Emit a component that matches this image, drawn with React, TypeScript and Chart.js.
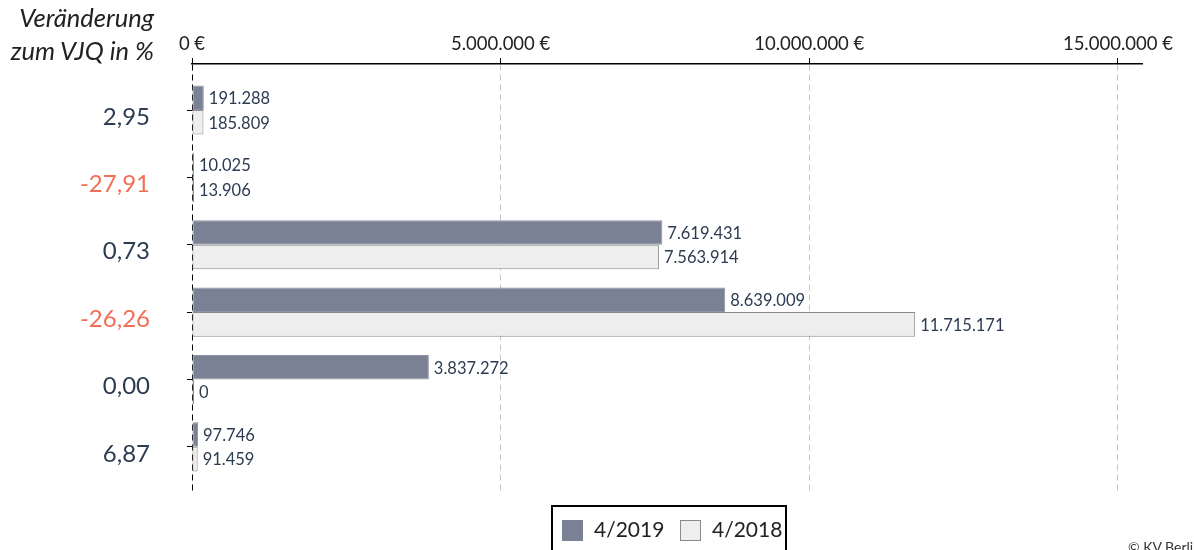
import React, { useEffect, useRef } from "react";
import { Chart, registerables } from "chart.js";

Chart.register(...registerables);

const changeLabels = ["2,95", "-27,91", "0,73", "-26,26", "0,00", "6,87"];
const values2019 = [191288, 10025, 7619431, 8639009, 3837272, 97746];
const values2018 = [185809, 13906, 7563914, 11715171, 0, 91459];
const xTicks = [0, 5000000, 10000000, 15000000];
const seriesNames = ["4/2019", "4/2018"];

const FONT = "Lato, 'Open Sans', sans-serif";
const DARK = "#2c3b52";
const RED = "#f26d55";

function fmt(n: number): string {
  const s = Math.round(n).toString();
  return s.replace(/\B(?=(\d{3})+(?!\d))/g, ".");
}

const valueLabelPlugin = {
  id: "valueLabels",
  afterDatasetsDraw(chart: any) {
    const ctx = chart.ctx;
    ctx.save();
    ctx.font = `16.5px ${FONT}`;
    ctx.fillStyle = DARK;
    ctx.textAlign = "left";
    ctx.textBaseline = "middle";
    chart.data.datasets.forEach((ds: any, di: number) => {
      const meta = chart.getDatasetMeta(di);
      meta.data.forEach((el: any, i: number) => {
        const v = ds.data[i].x;
        ctx.fillText(fmt(v), Math.max(el.x, el.base) + 5, el.y + 1);
      });
    });
    ctx.restore();
  },
};

export default function App() {
  const ref = useRef<HTMLCanvasElement>(null);
  useEffect(() => {
    if (!ref.current) return;
    const chart = new Chart(ref.current, {
      type: "bar",
      data: {
        datasets: [
          {
            label: seriesNames[0],
            data: values2019.map((v, i) => ({ x: v, y: i })),
            backgroundColor: "#7a8194",
            borderColor: "#8e94a4",
            borderWidth: 1,
            borderSkipped: false,
            minBarLength: 2,
          },
          {
            label: seriesNames[1],
            data: values2018.map((v, i) => ({ x: v, y: i })),
            backgroundColor: "#eeeeee",
            borderColor: "#8a8a8a",
            borderWidth: 1,
            borderSkipped: false,
            minBarLength: 2,
          },
        ],
      },
      options: {
        indexAxis: "y",
        animation: false,
        responsive: false,
        maintainAspectRatio: false,
        layout: { padding: { left: 0, right: 52, top: 0, bottom: 58 } },
        datasets: { bar: { categoryPercentage: 0.73, barPercentage: 1 } } as any,
        plugins: { legend: { display: false }, tooltip: { enabled: false } },
        scales: {
          x: {
            type: "linear",
            position: "top",
            min: 0,
            max: 15390000,
            offset: false,
            afterFit: (s: any) => {
              s.height = 64;
            },
            afterBuildTicks: (s: any) => {
              s.ticks = xTicks.map((v) => ({ value: v }));
            },
            ticks: {
              padding: 3,
              color: "#222",
              font: { family: FONT, size: 18.5 },
              callback: (v: any) => fmt(Number(v)) + " €",
            },
            grid: {
              offset: false,
              drawTicks: true,
              tickLength: 6,
              color: (c: any) => (c.tick && c.tick.value === 0 ? "#000" : "#c4c4c4"),
              lineWidth: 1,
              tickColor: "#000",
            },
            border: { display: true, color: "#000", width: 1.5, dash: [6, 4] },
          } as any,
          y: {
            type: "linear",
            reverse: true,
            offset: false,
            min: -0.683,
            max: 5.67,
            afterFit: (s: any) => {
              s.width = 192;
            },
            afterBuildTicks: (s: any) => {
              s.ticks = changeLabels.map((_, i) => ({ value: i }));
            },
            ticks: {
              padding: 37,
              labelOffset: 7,
              font: { family: FONT, size: 24 },
              color: (c: any) => ((changeLabels[c.index] || "").startsWith("-") ? RED : DARK),
              callback: (_v: any, i: number) => changeLabels[i],
            },
            grid: {
              offset: false,
              drawOnChartArea: false,
              drawTicks: true,
              tickLength: 5,
              color: "#000",
            },
            border: { display: false },
          } as any,
        },
      },
      plugins: [valueLabelPlugin],
    });
    return () => chart.destroy();
  }, []);

  return (
    <div
      style={{
        position: "fixed",
        left: 0,
        top: 0,
        width: 1194,
        height: 550,
        overflow: "hidden",
        background: "#fff",
        fontFamily: FONT,
      }}
    >
      <canvas ref={ref} width={1194} height={550} style={{ position: "absolute", left: 0, top: 0 }} />
      <div
        style={{
          position: "absolute",
          right: 1194 - 154,
          top: 1,
          textAlign: "right",
          fontStyle: "italic",
          fontSize: 25.5,
          lineHeight: "33px",
          color: "#222",
          whiteSpace: "nowrap",
        }}
      >
        Veränderung
        <br />
        zum VJQ in %
      </div>
      <div
        style={{
          position: "absolute",
          left: 551,
          top: 505,
          width: 236,
          height: 60,
          border: "2px solid #000",
          boxSizing: "border-box",
        }}
      >
        <div style={{ position: "absolute", left: 9, top: 13, width: 21, height: 21, background: "#7a8194" }} />
        <div style={{ position: "absolute", left: 41, top: 9, fontSize: 21, color: "#222" }}>{seriesNames[0]}</div>
        <div
          style={{
            position: "absolute",
            left: 127,
            top: 13,
            width: 21,
            height: 21,
            background: "#eeeeee",
            border: "1px solid #8a8a8a",
            boxSizing: "border-box",
          }}
        />
        <div style={{ position: "absolute", left: 159, top: 9, fontSize: 21, color: "#222" }}>{seriesNames[1]}</div>
      </div>
      <div style={{ position: "absolute", left: 1128, top: 538, fontSize: 14, color: "#333", whiteSpace: "nowrap" }}>
        © KV Berlin
      </div>
    </div>
  );
}
